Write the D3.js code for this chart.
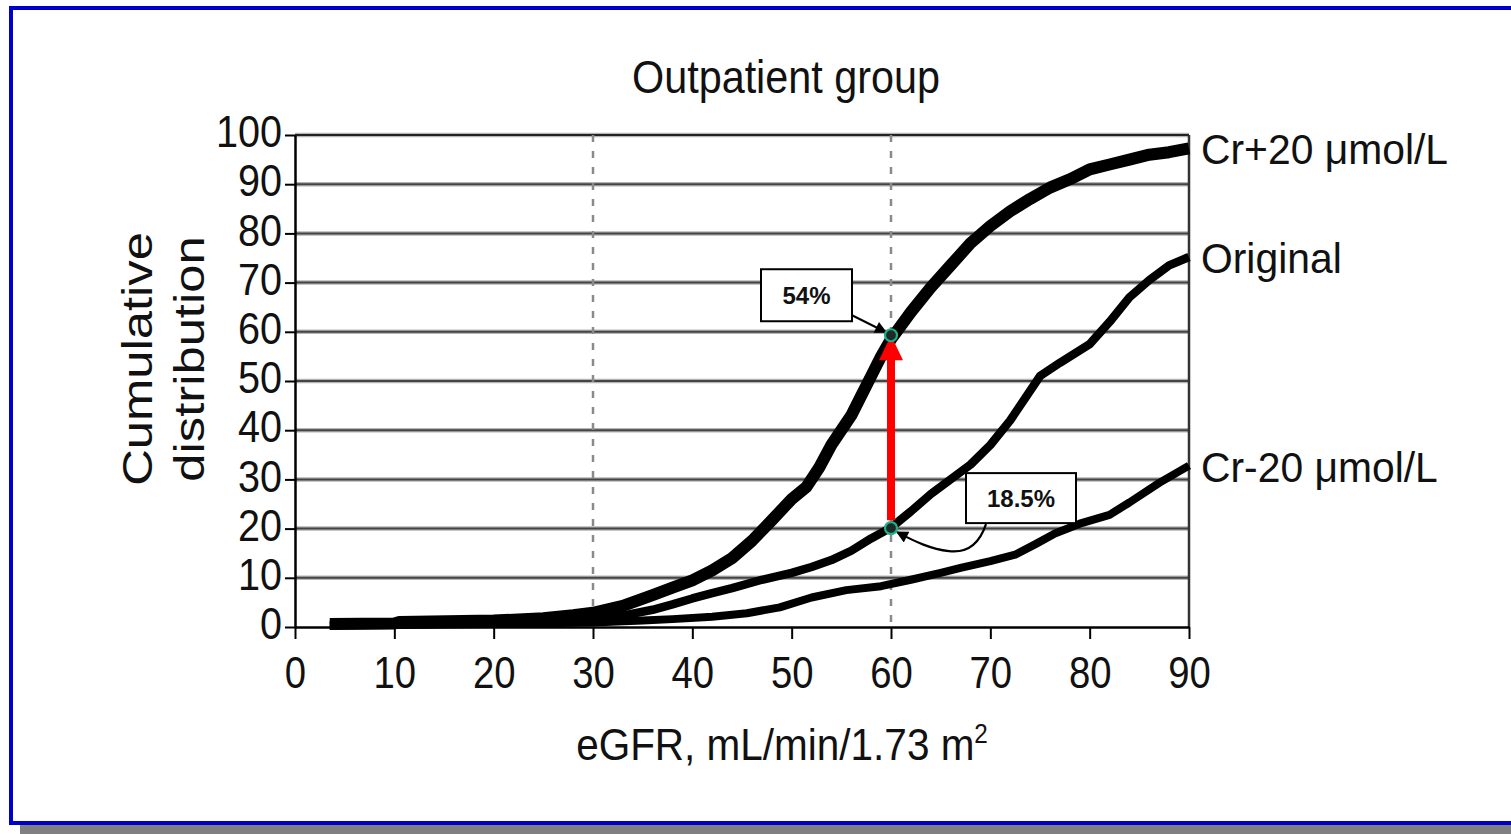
<!DOCTYPE html>
<html>
<head>
<meta charset="utf-8">
<script src="https://cdn.jsdelivr.net/npm/d3@7"></script>
<style>
body { margin: 0; background: #fff; }
svg { display: block; font-family: "Liberation Sans", Arial, sans-serif; }
</style>
</head>
<body>
<svg id="chart"></svg>
<script>
// Data
const xTicks = [0, 10, 20, 30, 40, 50, 60, 70, 80, 90];
const yTicks = [0, 10, 20, 30, 40, 50, 60, 70, 80, 90, 100];
const refLines = [30, 60];
const seriesNames = ["Cr+20 μmol/L", "Original", "Cr-20 μmol/L"];

const crPlus = [[3.5,0.6],[10,0.7],[10.5,1],[20,1.3],[25,1.8],[28,2.4],[30,2.9],[33,4.3],[36,6.5],[38,8],
  [40,9.5],[42,11.5],[44,14],[46,17.5],[48,21.7],[50,26],[51.5,28.5],[52.8,32.5],[54,37],[55,40],[56,43],
  [57,47],[58,51],[59,55],[60,58.5],[62,64],[64,69],[66,73.5],[68,78],[70,81.5],[72,84.5],[74,87],
  [76,89.3],[78,91],[80,93],[82,94],[84,95],[86,96],[88,96.5],[90,97.3]];

const original = [[3.5,0.4],[10,0.5],[20,0.8],[25,1],[30,1.5],[33,2.3],[36,3.5],[38,4.6],[40,5.8],[42,6.9],
  [44,7.9],[47,9.6],[50,11],[52,12.2],[54,13.6],[56,15.5],[58,18],[60,20.2],[62,23.5],[64,27],[66,30],
  [68,33],[70,37],[72,42],[74,48],[75,51],[77,53.7],[80,57.5],[82,62],[84,67],[86,70.5],[88,73.5],[90,75.2]];

const crMinus = [[3.5,0.3],[10,0.4],[20,0.6],[30,0.9],[35,1.3],[38,1.6],[42,2.1],[45.5,2.8],[48.8,4],[52,6],
  [55.5,7.5],[59,8.3],[62,9.6],[65,11],[67,12],[70,13.4],[72.5,14.7],[74.5,16.8],[76.5,19],[79,21],
  [82,22.8],[84,25.3],[87,29.3],[90,32.8]];

// annotated points at eGFR 60
const markX = 60;
const markTop = 59.3, markBottom = 20.1;
const markLabels = ["54%", "18.5%"];

// Dimensions
const W = 1511, H = 834;
const svg = d3.select("#chart").attr("width", W).attr("height", H);

const x = d3.scaleLinear().domain([0, 90]).range([295, 1189]);
const y = d3.scaleLinear().domain([0, 100]).range([627, 135]);

// Frame with shadow
svg.append("rect").attr("x", 20).attr("y", 825).attr("width", W).attr("height", 9).attr("fill", "#808080");
svg.append("rect").attr("x", 11).attr("y", 8).attr("width", W + 10).attr("height", 815)
  .attr("fill", "#fff").attr("stroke", "#0000cd").attr("stroke-width", 4);

// Horizontal gridlines (soft halo + dark core)
const gridVals = yTicks.filter(d => d > 0);
const grid = svg.append("g");
grid.selectAll("line.halo")
  .data(gridVals)
  .enter().append("line").attr("class", "halo")
  .attr("x1", x(0)).attr("x2", x(90))
  .attr("y1", d => y(d)).attr("y2", d => y(d))
  .attr("stroke", "#b5b5b5").attr("stroke-width", 4.5);
grid.selectAll("line.core")
  .data(gridVals)
  .enter().append("line").attr("class", "core")
  .attr("x1", x(0)).attr("x2", x(90))
  .attr("y1", d => y(d)).attr("y2", d => y(d))
  .attr("stroke", d => d === 100 ? "#222" : "#444")
  .attr("stroke-width", 2);

// right frame
svg.append("line").attr("x1", x(90)).attr("x2", x(90)).attr("y1", y(100)).attr("y2", y(0))
  .attr("stroke", "#333").attr("stroke-width", 2.5);

// Dashed reference lines
svg.append("g").selectAll("line")
  .data(refLines)
  .enter().append("line")
  .attr("x1", d => x(d)).attr("x2", d => x(d))
  .attr("y1", y(100)).attr("y2", y(0))
  .attr("stroke", "#8a8a8a").attr("stroke-width", 2.5)
  .attr("stroke-dasharray", "7,9");

// Axes
const yAxis = svg.append("g")
  .attr("transform", `translate(${x(0)},0)`)
  .call(d3.axisLeft(y).tickValues(yTicks).tickSize(10).tickPadding(2).tickSizeOuter(0));
yAxis.select(".domain").attr("stroke", "#000").attr("stroke-width", 2.5);
yAxis.selectAll(".tick line").attr("stroke", "#000").attr("stroke-width", 2);
yAxis.selectAll(".tick text")
  .attr("font-size", 45).attr("font-family", "Liberation Sans, Arial, sans-serif")
  .attr("fill", "#111")
  .attr("x", -13 / 0.88).attr("dy", "0.26em")
  .attr("transform", "scale(0.88,1)");

const xAxis = svg.append("g")
  .attr("transform", `translate(0,${y(0)})`)
  .call(d3.axisBottom(x).tickValues(xTicks).tickSize(12).tickSizeOuter(0));
xAxis.select(".domain").attr("stroke", "#000").attr("stroke-width", 2.5);
xAxis.selectAll(".tick line").attr("stroke", "#000").attr("stroke-width", 2);
xAxis.selectAll(".tick text")
  .attr("font-size", 44).attr("font-family", "Liberation Sans, Arial, sans-serif")
  .attr("fill", "#111")
  .attr("y", 61).attr("dy", 0)
  .attr("transform", "scale(0.87,1)");

// Curves
const line = d3.line().x(d => x(d[0])).y(d => y(d[1])).curve(d3.curveLinear);
const series = [
  { name: seriesNames[0], data: crPlus, w: 12 },
  { name: seriesNames[1], data: original, w: 8.5 },
  { name: seriesNames[2], data: crMinus, w: 8 }
];
svg.append("g").selectAll("path")
  .data(series.slice().reverse())
  .enter().append("path")
  .attr("d", d => line(d.data))
  .attr("fill", "none")
  .attr("stroke", "#000")
  .attr("stroke-width", d => d.w)
  .attr("stroke-linejoin", "round");

// Series labels at line ends
svg.append("g").selectAll("text")
  .data(series)
  .enter().append("text")
  .attr("transform", d => `translate(${x(90) + 12},${y(d.data[d.data.length - 1][1])}) scale(0.95,1)`)
  .attr("dy", "0.37em")
  .attr("font-size", 43)
  .attr("fill", "#111")
  .text(d => d.name);

// Titles
svg.append("text")
  .attr("transform", "translate(786,93) scale(0.88,1)")
  .attr("text-anchor", "middle").attr("font-size", 47).attr("fill", "#111")
  .text("Outpatient group");

const xt = svg.append("text")
  .attr("transform", "translate(782,760) scale(0.9,1)")
  .attr("text-anchor", "middle").attr("font-size", 45).attr("fill", "#111");
xt.append("tspan").text("eGFR, mL/min/1.73 m");
xt.append("tspan").attr("font-size", 27).attr("dy", -17).text("2");

svg.append("text")
  .attr("transform", "translate(152,359) rotate(-90) scale(1.18,1)")
  .attr("text-anchor", "middle").attr("font-size", 43).attr("fill", "#111")
  .text("Cumulative");
svg.append("text")
  .attr("transform", "translate(204,359) rotate(-90) scale(1.18,1)")
  .attr("text-anchor", "middle").attr("font-size", 43).attr("fill", "#111")
  .text("distribution");

// Annotations
const defs = svg.append("defs");
defs.append("marker").attr("id", "ah")
  .attr("viewBox", "0 0 10 10").attr("refX", 9).attr("refY", 5)
  .attr("markerWidth", 15).attr("markerHeight", 12).attr("markerUnits", "userSpaceOnUse")
  .attr("orient", "auto")
  .append("path").attr("d", "M0,0 L10,5 L0,10 Z").attr("fill", "#000");

const px = x(markX), pTop = y(markTop), pBot = y(markBottom);

// red arrow
svg.append("line")
  .attr("x1", px).attr("x2", px)
  .attr("y1", y(markBottom + 1.6)).attr("y2", pTop + 22)
  .attr("stroke", "#ff0000").attr("stroke-width", 8);
svg.append("path")
  .attr("d", `M${px},${pTop} L${px - 12},${pTop + 25} L${px + 12},${pTop + 25} Z`)
  .attr("fill", "#ff0000");

// label boxes
const boxes = [
  { label: markLabels[0], bx: px - 130, by: pTop - 66, w: 91, h: 52 },
  { label: markLabels[1], bx: px + 75, by: pBot - 55, w: 110, h: 50 }
];
const bg = svg.append("g").selectAll("g").data(boxes).enter().append("g");
bg.append("rect")
  .attr("x", d => d.bx).attr("y", d => d.by)
  .attr("width", d => d.w).attr("height", d => d.h)
  .attr("fill", "#fff").attr("stroke", "#000").attr("stroke-width", 2);
bg.append("text")
  .attr("x", d => d.bx + d.w / 2).attr("y", d => d.by + d.h / 2)
  .attr("dy", "0.36em").attr("text-anchor", "middle")
  .attr("font-size", 24).attr("font-weight", "bold").attr("fill", "#111")
  .text(d => d.label);

// pointer arrows
svg.append("path")
  .attr("d", `M${px - 39},${pTop - 20} L${px - 5},${pTop - 3}`)
  .attr("fill", "none").attr("stroke", "#000").attr("stroke-width", 2)
  .attr("marker-end", "url(#ah)");
svg.append("path")
  .attr("d", `M${px + 95},${pBot - 4} C${px + 88},${pBot + 17} ${px + 75},${pBot + 25} ${px + 58},${pBot + 23} C${px + 40},${pBot + 21} ${px + 25},${pBot + 14} ${px + 6},${pBot + 4}`)
  .attr("fill", "none").attr("stroke", "#000").attr("stroke-width", 2.2)
  .attr("marker-end", "url(#ah)");

// point markers
svg.append("g").selectAll("circle")
  .data([markTop, markBottom])
  .enter().append("circle")
  .attr("cx", px).attr("cy", d => y(d)).attr("r", 6)
  .attr("fill", "#1e2a26").attr("stroke", "#1db08c").attr("stroke-width", 2.2);
</script>
</body>
</html>
